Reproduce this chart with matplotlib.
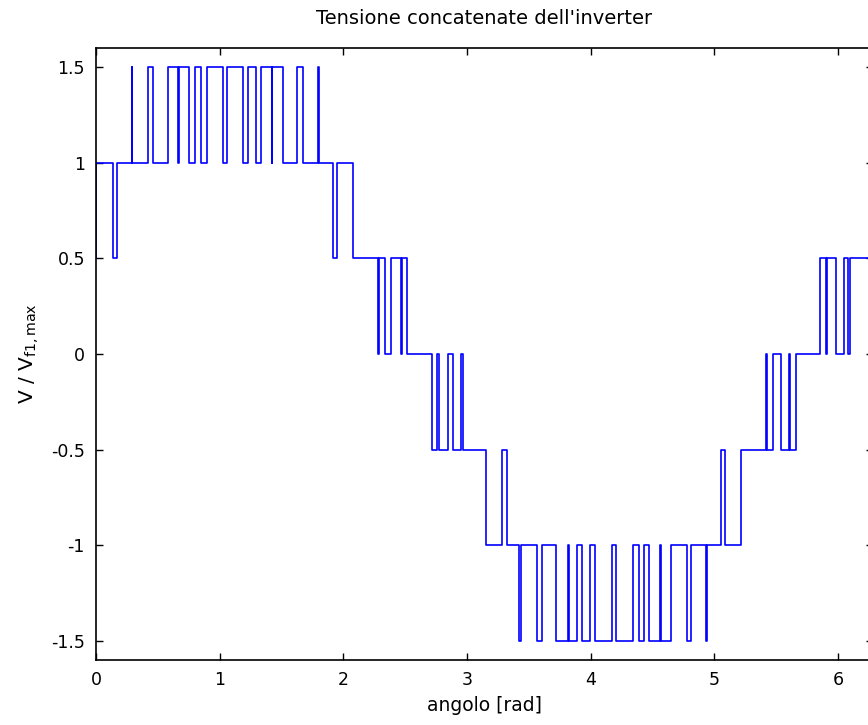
import matplotlib
matplotlib.use('Agg')
import matplotlib.pyplot as plt
import numpy as np

plt.rcParams['font.family'] = ['DejaVu Sans']
plt.rcParams['mathtext.fontset'] = 'dejavusans'

# switching instants [rad] and the level held from each instant on
t_switch = [0.000, 0.004, 0.140, 0.172, 0.288, 0.294, 0.423, 0.463, 0.584, 0.666,
            0.671, 0.754, 0.801, 0.849, 0.901, 1.029, 1.057, 1.186, 1.232, 1.291,
            1.334, 1.420, 1.425, 1.509, 1.628, 1.671, 1.797, 1.802, 1.913, 1.946,
            2.077, 2.277, 2.285, 2.336, 2.382, 2.463, 2.471, 2.511, 2.714, 2.759,
            2.773, 2.849, 2.889, 2.950, 2.969, 3.152, 3.280, 3.323, 3.423, 3.437,
            3.563, 3.603, 3.719, 3.819, 3.825, 3.891, 3.934, 3.994, 4.039, 4.173,
            4.202, 4.344, 4.390, 4.433, 4.473, 4.560, 4.565, 4.646, 4.781, 4.808,
            4.936, 4.941, 5.053, 5.085, 5.218, 5.416, 5.429, 5.476, 5.538, 5.606,
            5.615, 5.664, 5.853, 5.903, 5.915, 5.987, 6.047, 6.082, 6.098, 2 * np.pi]
v_level = [0.5, 1.0, 0.5, 1.0, 1.5, 1.0, 1.5, 1.0, 1.5, 1.0,
           1.5, 1.0, 1.5, 1.0, 1.5, 1.0, 1.5, 1.0, 1.5, 1.0,
           1.5, 1.0, 1.5, 1.0, 1.5, 1.0, 1.5, 1.0, 0.5, 1.0,
           0.5, 0.0, 0.5, 0.0, 0.5, 0.0, 0.5, 0.0, -0.5, 0.0,
           -0.5, 0.0, -0.5, 0.0, -0.5, -1.0, -0.5, -1.0, -1.5, -1.0,
           -1.5, -1.0, -1.5, -1.0, -1.5, -1.0, -1.5, -1.0, -1.5, -1.0,
           -1.5, -1.0, -1.5, -1.0, -1.5, -1.0, -1.5, -1.0, -1.5, -1.0,
           -1.5, -1.0, -0.5, -1.0, -0.5, 0.0, -0.5, 0.0, -0.5, 0.0,
           -0.5, 0.0, 0.5, 0.0, 0.5, 0.0, 0.5, 0.0, 0.5, 0.5]

x_ticks = [0, 1, 2, 3, 4, 5, 6]
y_ticks = [-1.5, -1, -0.5, 0, 0.5, 1, 1.5]
y_tick_labels = ['-1.5', '-1', '-0.5', '0', '0.5', '1', '1.5']

fig = plt.figure(figsize=(8.68, 7.25), dpi=100)
# axes runs a little past the right edge of the picture, as in the original
ax = fig.add_axes([96 / 868, 65 / 725, 777 / 868, 612 / 725])

ax.step(t_switch, v_level, where='post', color='#0000ff', linewidth=1.2)

ax.set_xlim(0, 2 * np.pi)
ax.set_ylim(-1.6, 1.6)
ax.set_xticks(x_ticks)
ax.set_xticklabels([str(x) for x in x_ticks])
ax.set_yticks(y_ticks)
ax.set_yticklabels(y_tick_labels)
ax.tick_params(direction='in', top=True, right=True, length=5, width=1,
               labelsize=12.5, pad=8)
for sp in ax.spines.values():
    sp.set_linewidth(1.2)

ax.set_title("Tensione concatenate dell'inverter", fontsize=14, pad=17)
ax.set_xlabel('angolo [rad]', fontsize=13.5, labelpad=5)
ax.set_ylabel(r'V / V$_{\mathrm{f1,max}}$', fontsize=14.5, labelpad=7)

fig.savefig('out.png', dpi=100)
